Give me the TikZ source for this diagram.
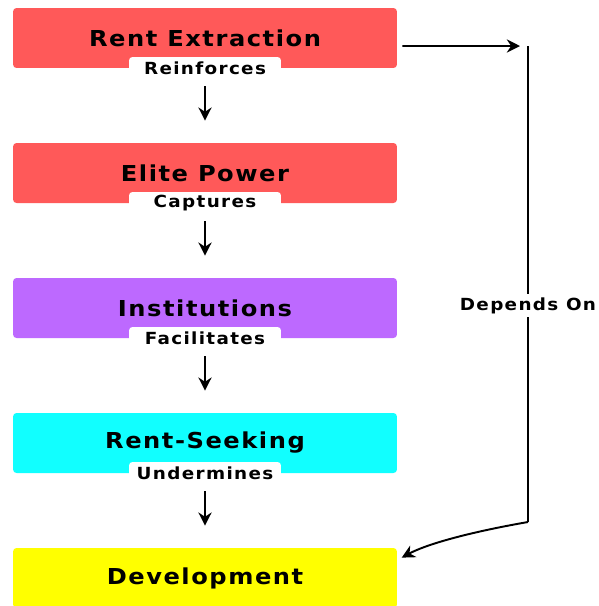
\documentclass[tikz,border=0pt]{standalone}
\usepackage{fontspec}
\setmainfont{DejaVu Sans}
\newfontfamily\stagefont[FakeStretch=1.1,LetterSpace=7]{DejaVu Sans}
\newfontfamily\relfont[FakeStretch=1.1,LetterSpace=8]{DejaVu Sans}
\usetikzlibrary{arrows.meta}
\definecolor{extractred}{HTML}{FF5959}
\definecolor{instpurple}{HTML}{BD69FF}
\definecolor{seekcyan}{HTML}{11FFFF}
\definecolor{devyellow}{HTML}{FFFF00}
\tikzset{stage/.style={rounded corners=2pt,minimum width=7.68cm,minimum height=1.2cm,inner sep=0pt,font=\stagefont\bfseries\fontsize{12.5}{14}\selectfont}}
\tikzset{rel/.style={fill=white,rounded corners=2pt,minimum width=3.04cm,minimum height=0.44cm,inner sep=0pt,font=\relfont\bfseries\fontsize{9.5}{10}\selectfont}}
\tikzset{flow/.style={-{Stealth[length=7.5pt,width=7.5pt]},line width=1.1pt}}

\begin{document}
\begin{tikzpicture}[x=0.02cm,y=-0.02cm]
        \useasboundingbox (0,0) rectangle (599,606);
        % draw the stages
        \node[stage,fill=extractred] (extraction) at (205,38) {Rent Extraction};
        \node[stage,fill=extractred] (elite) at (205,173) {Elite Power};
        \node[stage,fill=instpurple] (institutions) at (205,308) {Institutions};
        \node[stage,fill=seekcyan] (seeking) at (205,443) {Rent-Seeking};
        \node[stage,fill=devyellow] (development) at (205,578) {Development};
        
        % draw the relation labels
        \node[rel] (reinforces) at (205,68) {Reinforces};
        \node[rel] (captures) at (205,203) {Captures};
        \node[rel] (facilitates) at (205,338) {Facilitates};
        \node[rel] (undermines) at (205,473) {Undermines};
        
        % draw the arrows down the chain
        \draw[flow,shorten <=0.14cm,shorten >=0.44cm] (reinforces) -- (elite);
        \draw[flow,shorten <=0.14cm,shorten >=0.44cm] (captures) -- (institutions);
        \draw[flow,shorten <=0.14cm,shorten >=0.44cm] (facilitates) -- (seeking);
        \draw[flow,shorten <=0.14cm,shorten >=0.44cm] (undermines) -- (development);
        
        % draw the feedback on the right
        \coordinate (railtip) at (520,46);
        \coordinate (railtop) at (528,46);
        \coordinate (railfoot) at (528,522);
        \draw[flow,shorten <=0.1cm] ([yshift=-0.16cm]extraction.east) -- (railtip);
        \draw[line width=1.1pt] (railtop) -- (railfoot)
            node[pos=0.546,fill=white,inner sep=2pt,font=\relfont\bfseries\fontsize{9.5}{10}\selectfont] (dependson) {Depends On};
        \draw[flow,shorten >=0.1cm] (railfoot) .. controls (465,533) and (425,545) .. ([yshift=0.36cm]development.east);
    \end{tikzpicture}
\end{document}
